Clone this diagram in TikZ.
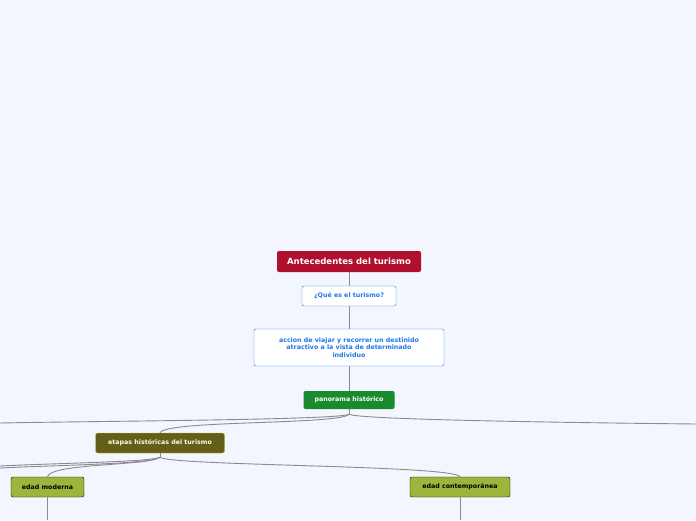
\documentclass[tikz,border=0pt]{standalone}
\usepackage{fontspec}
\setmainfont{DejaVu Sans}
\definecolor{bg}{HTML}{F3F6FE}
\definecolor{crim}{HTML}{B0102E}
\definecolor{blu}{HTML}{1E78E6}
\definecolor{grn}{HTML}{1A8A2E}
\definecolor{oliv}{HTML}{635E1A}
\definecolor{lime}{HTML}{9CB53A}
\definecolor{ln}{HTML}{8A8A90}
\begin{document}
\begin{tikzpicture}[x=1pt,y=-1pt,
 base/.style={rounded corners=2pt,font=\bfseries\fontsize{6.3}{7.2}\selectfont,align=center,inner sep=0pt},
 conn/.style={draw=ln,line width=0.9pt}]
\fill[bg] (0,0) rectangle (696,520);
\useasboundingbox (0,0) rectangle (696,520);
\node[base,fill=crim,text=white,minimum width=144,minimum height=21,font=\bfseries\fontsize{8.5}{10}\selectfont] (a) at (349,261.5) {Antecedentes del turismo};
\node[base,fill=white,draw=blu,text=blu,minimum width=94,minimum height=20] (q) at (349,296) {¿Qué es el turismo?};
\node[base,fill=white,draw=blu,text=blu,minimum width=190,minimum height=37] (d) at (349,347.5) {accion de viajar y recorrer un destinido\\atractivo a la vista de determinado\\individuo};
\node[base,fill=grn,text=white,minimum width=91,minimum height=18] (p) at (349,400) {panorama histórico};
\node[base,fill=oliv,draw=lime!60!yellow,text=white!85!yellow,minimum width=129,minimum height=20] (e) at (160,443) {etapas históricas del turismo};
\node[base,fill=lime,draw=black,text=black,minimum width=73,minimum height=20] (m) at (47.5,487) {edad moderna};
\node[base,fill=lime,draw=black,text=black,minimum width=100,minimum height=20] (c) at (460,487) {edad contemporánea};
\coordinate (pl) at (0,423); \coordinate (pr) at (696,424);
\coordinate (el) at (0,466); \coordinate (el2) at (0,468);
\coordinate (mb) at (47.5,520); \coordinate (cb) at (460,520);
\draw[conn] (a) -- (q); \draw[conn] (q) -- (d); \draw[conn] (d) -- (p);
\draw[conn] (p.south) -- ++(0,5) coordinate (pj);
\draw[conn] (pj) .. controls (340,420) and (100,421) .. (pl);
\draw[conn] (pj) .. controls (358,420) and (600,423) .. (pr);
\draw[conn] (pj) .. controls (340,425) and (165,420) .. (e.north);
\draw[conn] (e.south) -- ++(0,4) coordinate (ej);
\draw[conn] (ej) .. controls (150,462) and (60,463) .. (el);
\draw[conn] (ej) .. controls (152,464) and (60,465) .. (el2);
\draw[conn] (ej) .. controls (150,466) and (50,463) .. (m.north);
\draw[conn] (ej) .. controls (170,466) and (455,465) .. (c.north);
\draw[conn] (m) -- (mb); \draw[conn] (c) -- (cb);
\end{tikzpicture}
\end{document}
